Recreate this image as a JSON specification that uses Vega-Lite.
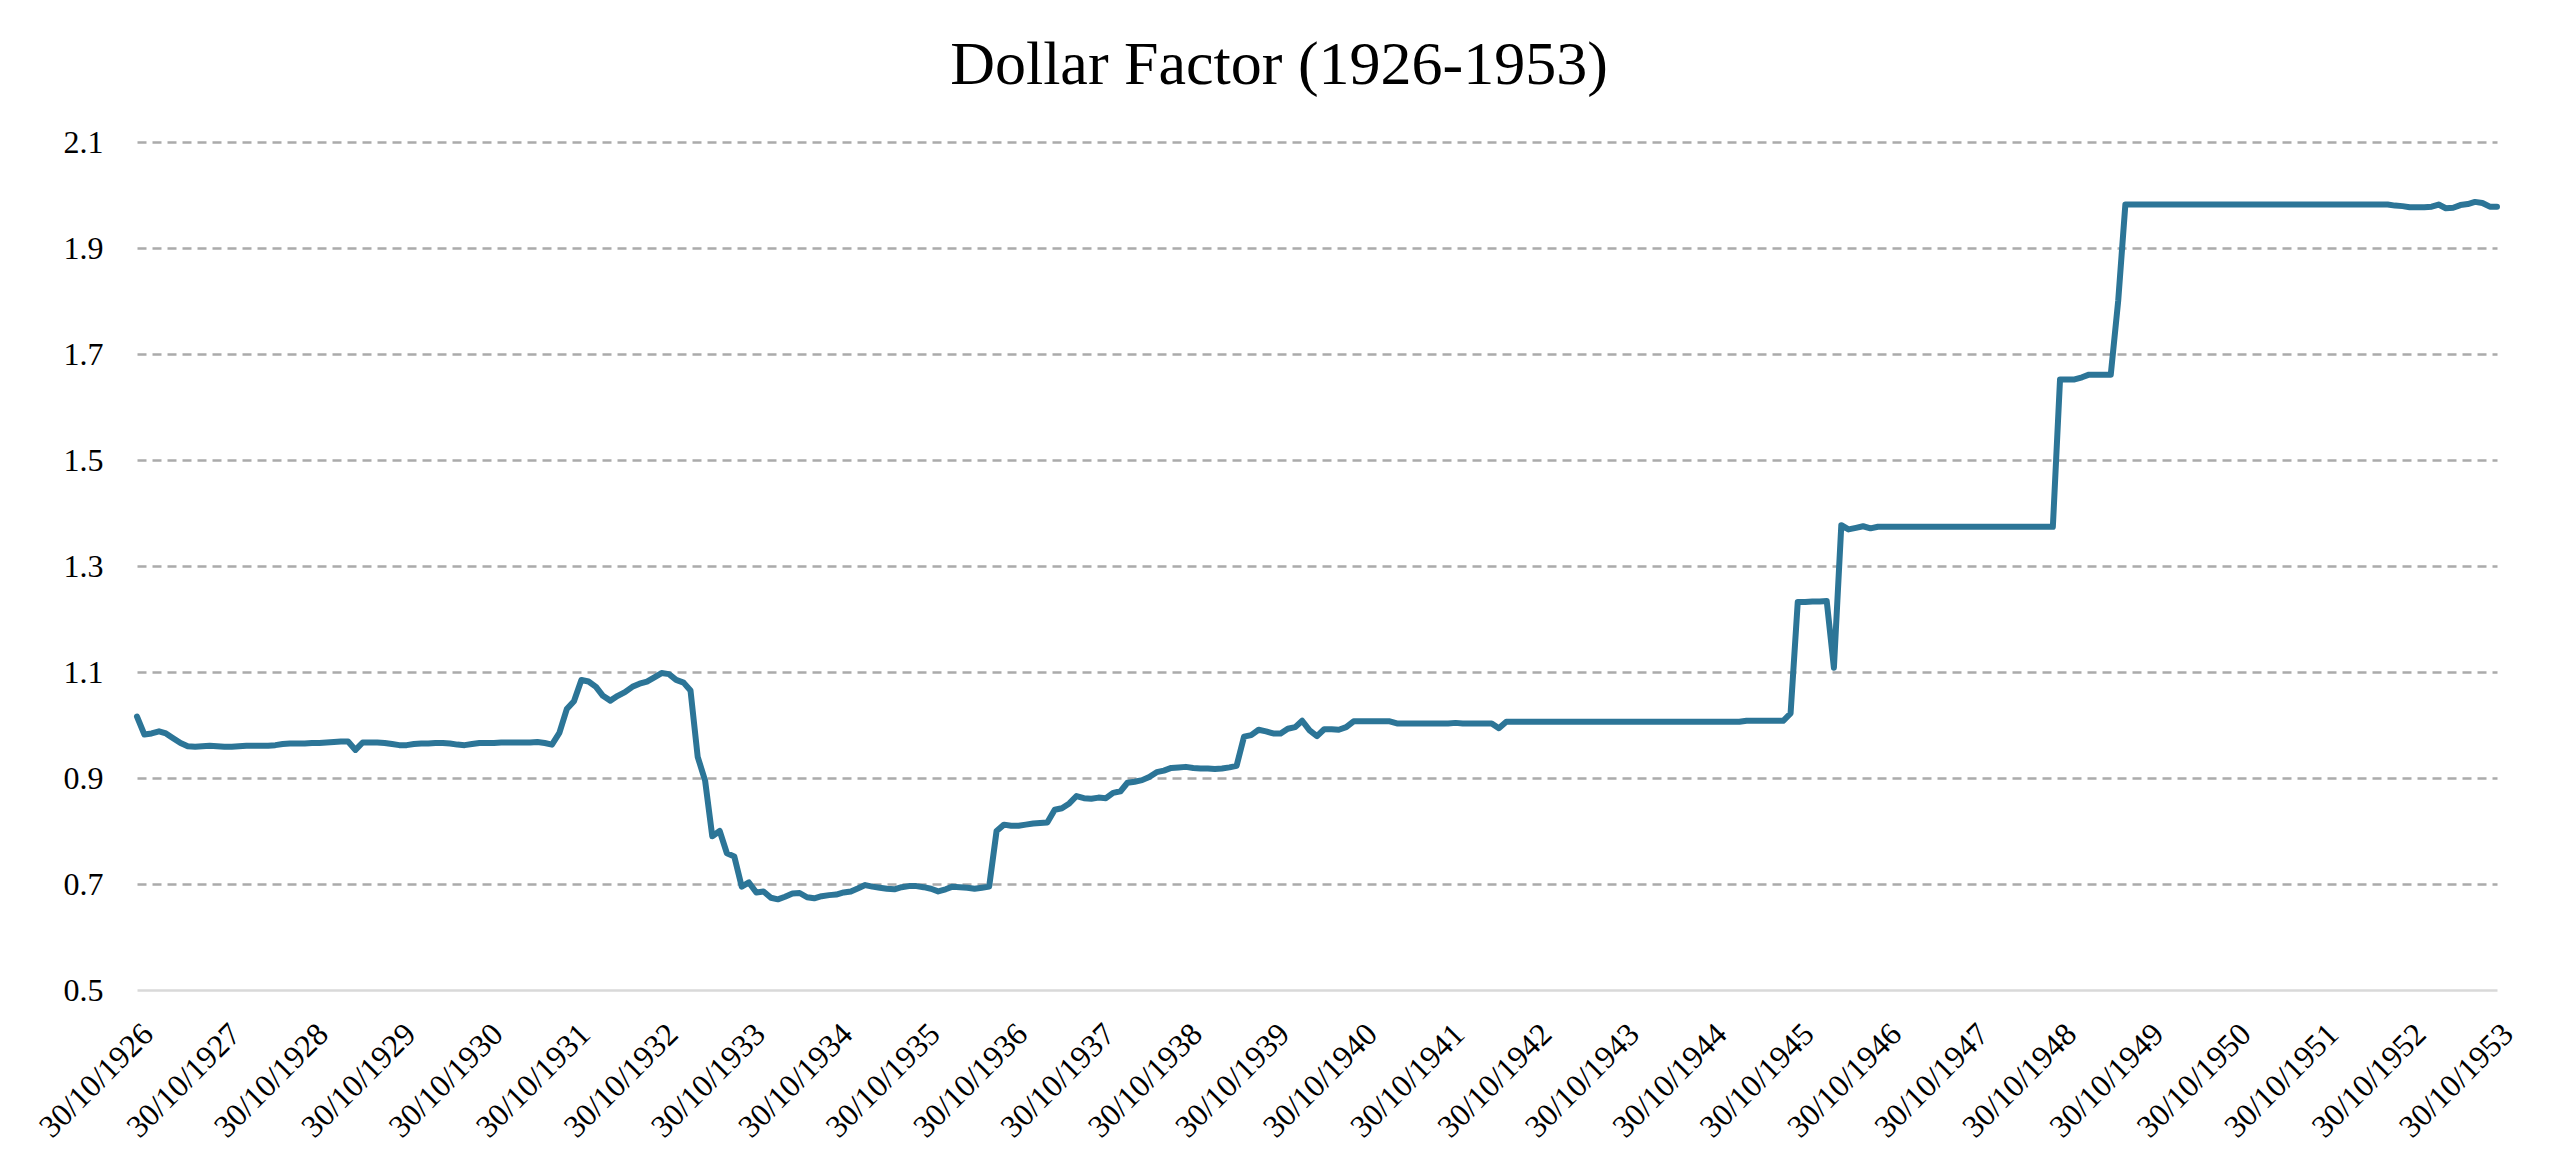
{
  "$schema": "https://vega.github.io/schema/vega-lite/v6.json",
  "width": 2360,
  "height": 848,
  "autosize": "none",
  "padding": {"left": 137, "top": 142, "right": 63, "bottom": 170},
  "background": "white",
  "title": {
    "text": "Dollar Factor (1926-1953)",
    "font": "Liberation Serif",
    "fontSize": 62,
    "fontWeight": "normal",
    "color": "#000000",
    "anchor": "middle",
    "dx": -38,
    "offset": 29
  },
  "data": {
    "values": [
      {"d": "1926-10-30", "v": 1.016}, {"d": "1926-11-30", "v": 0.982}, {"d": "1926-12-30", "v": 0.984},
      {"d": "1927-01-30", "v": 0.988}, {"d": "1927-02-28", "v": 0.984}, {"d": "1927-03-30", "v": 0.975}, {"d": "1927-04-30", "v": 0.966}, {"d": "1927-05-30", "v": 0.960}, {"d": "1927-06-30", "v": 0.959}, {"d": "1927-07-30", "v": 0.960}, {"d": "1927-08-30", "v": 0.961}, {"d": "1927-09-30", "v": 0.960}, {"d": "1927-10-30", "v": 0.959}, {"d": "1927-11-30", "v": 0.959}, {"d": "1927-12-30", "v": 0.960},
      {"d": "1928-01-30", "v": 0.961}, {"d": "1928-02-28", "v": 0.961}, {"d": "1928-03-30", "v": 0.961}, {"d": "1928-04-30", "v": 0.961}, {"d": "1928-05-30", "v": 0.962}, {"d": "1928-06-30", "v": 0.964}, {"d": "1928-07-30", "v": 0.965}, {"d": "1928-08-30", "v": 0.965}, {"d": "1928-09-30", "v": 0.965}, {"d": "1928-10-30", "v": 0.966}, {"d": "1928-11-30", "v": 0.966}, {"d": "1928-12-30", "v": 0.967},
      {"d": "1929-01-30", "v": 0.968}, {"d": "1929-02-28", "v": 0.969}, {"d": "1929-03-30", "v": 0.969}, {"d": "1929-04-30", "v": 0.953}, {"d": "1929-05-30", "v": 0.967}, {"d": "1929-06-30", "v": 0.967}, {"d": "1929-07-30", "v": 0.967}, {"d": "1929-08-30", "v": 0.966}, {"d": "1929-09-30", "v": 0.964}, {"d": "1929-10-30", "v": 0.962}, {"d": "1929-11-30", "v": 0.962}, {"d": "1929-12-30", "v": 0.964},
      {"d": "1930-01-30", "v": 0.965}, {"d": "1930-02-28", "v": 0.965}, {"d": "1930-03-30", "v": 0.966}, {"d": "1930-04-30", "v": 0.966}, {"d": "1930-05-30", "v": 0.965}, {"d": "1930-06-30", "v": 0.963}, {"d": "1930-07-30", "v": 0.962}, {"d": "1930-08-30", "v": 0.964}, {"d": "1930-09-30", "v": 0.966}, {"d": "1930-10-30", "v": 0.966}, {"d": "1930-11-30", "v": 0.966}, {"d": "1930-12-30", "v": 0.967},
      {"d": "1931-01-30", "v": 0.967}, {"d": "1931-02-28", "v": 0.967}, {"d": "1931-03-30", "v": 0.967}, {"d": "1931-04-30", "v": 0.967}, {"d": "1931-05-30", "v": 0.968}, {"d": "1931-06-30", "v": 0.966}, {"d": "1931-07-30", "v": 0.963}, {"d": "1931-08-30", "v": 0.985}, {"d": "1931-09-30", "v": 1.030}, {"d": "1931-10-30", "v": 1.045}, {"d": "1931-11-30", "v": 1.085}, {"d": "1931-12-30", "v": 1.082},
      {"d": "1932-01-30", "v": 1.072}, {"d": "1932-02-28", "v": 1.055}, {"d": "1932-03-30", "v": 1.046}, {"d": "1932-04-30", "v": 1.055}, {"d": "1932-05-30", "v": 1.062}, {"d": "1932-06-30", "v": 1.072}, {"d": "1932-07-30", "v": 1.078}, {"d": "1932-08-30", "v": 1.082}, {"d": "1932-09-30", "v": 1.090}, {"d": "1932-10-30", "v": 1.098}, {"d": "1932-11-30", "v": 1.096}, {"d": "1932-12-30", "v": 1.085},
      {"d": "1933-01-30", "v": 1.080}, {"d": "1933-02-28", "v": 1.065}, {"d": "1933-03-30", "v": 0.940}, {"d": "1933-04-30", "v": 0.895}, {"d": "1933-05-30", "v": 0.790}, {"d": "1933-06-30", "v": 0.800}, {"d": "1933-07-30", "v": 0.758}, {"d": "1933-08-30", "v": 0.752}, {"d": "1933-09-30", "v": 0.695}, {"d": "1933-10-30", "v": 0.703}, {"d": "1933-11-30", "v": 0.684}, {"d": "1933-12-30", "v": 0.686},
      {"d": "1934-01-30", "v": 0.674}, {"d": "1934-02-28", "v": 0.671}, {"d": "1934-03-30", "v": 0.676}, {"d": "1934-04-30", "v": 0.682}, {"d": "1934-05-30", "v": 0.683}, {"d": "1934-06-30", "v": 0.675}, {"d": "1934-07-30", "v": 0.673}, {"d": "1934-08-30", "v": 0.677}, {"d": "1934-09-30", "v": 0.679}, {"d": "1934-10-30", "v": 0.680}, {"d": "1934-11-30", "v": 0.684}, {"d": "1934-12-30", "v": 0.686},
      {"d": "1935-01-30", "v": 0.692}, {"d": "1935-02-28", "v": 0.698}, {"d": "1935-03-30", "v": 0.695}, {"d": "1935-04-30", "v": 0.693}, {"d": "1935-05-30", "v": 0.691}, {"d": "1935-06-30", "v": 0.690}, {"d": "1935-07-30", "v": 0.694}, {"d": "1935-08-30", "v": 0.696}, {"d": "1935-09-30", "v": 0.696}, {"d": "1935-10-30", "v": 0.694}, {"d": "1935-11-30", "v": 0.691}, {"d": "1935-12-30", "v": 0.686},
      {"d": "1936-01-30", "v": 0.690}, {"d": "1936-02-28", "v": 0.695}, {"d": "1936-03-30", "v": 0.694}, {"d": "1936-04-30", "v": 0.693}, {"d": "1936-05-30", "v": 0.691}, {"d": "1936-06-30", "v": 0.693}, {"d": "1936-07-30", "v": 0.695}, {"d": "1936-08-30", "v": 0.800}, {"d": "1936-09-30", "v": 0.812}, {"d": "1936-10-30", "v": 0.810}, {"d": "1936-11-30", "v": 0.810}, {"d": "1936-12-30", "v": 0.812},
      {"d": "1937-01-30", "v": 0.814}, {"d": "1937-02-28", "v": 0.815}, {"d": "1937-03-30", "v": 0.816}, {"d": "1937-04-30", "v": 0.840}, {"d": "1937-05-30", "v": 0.843}, {"d": "1937-06-30", "v": 0.852}, {"d": "1937-07-30", "v": 0.866}, {"d": "1937-08-30", "v": 0.862}, {"d": "1937-09-30", "v": 0.861}, {"d": "1937-10-30", "v": 0.863}, {"d": "1937-11-30", "v": 0.862}, {"d": "1937-12-30", "v": 0.872},
      {"d": "1938-01-30", "v": 0.875}, {"d": "1938-02-28", "v": 0.891}, {"d": "1938-03-30", "v": 0.893}, {"d": "1938-04-30", "v": 0.896}, {"d": "1938-05-30", "v": 0.902}, {"d": "1938-06-30", "v": 0.911}, {"d": "1938-07-30", "v": 0.914}, {"d": "1938-08-30", "v": 0.919}, {"d": "1938-09-30", "v": 0.920}, {"d": "1938-10-30", "v": 0.921}, {"d": "1938-11-30", "v": 0.919}, {"d": "1938-12-30", "v": 0.918},
      {"d": "1939-01-30", "v": 0.918}, {"d": "1939-02-28", "v": 0.917}, {"d": "1939-03-30", "v": 0.918}, {"d": "1939-04-30", "v": 0.920}, {"d": "1939-05-30", "v": 0.923}, {"d": "1939-06-30", "v": 0.978}, {"d": "1939-07-30", "v": 0.981}, {"d": "1939-08-30", "v": 0.991}, {"d": "1939-09-30", "v": 0.988}, {"d": "1939-10-30", "v": 0.984}, {"d": "1939-11-30", "v": 0.984}, {"d": "1939-12-30", "v": 0.993},
      {"d": "1940-01-30", "v": 0.996}, {"d": "1940-02-28", "v": 1.008}, {"d": "1940-03-30", "v": 0.990}, {"d": "1940-04-30", "v": 0.979}, {"d": "1940-05-30", "v": 0.992}, {"d": "1940-06-30", "v": 0.992}, {"d": "1940-07-30", "v": 0.991}, {"d": "1940-08-30", "v": 0.996}, {"d": "1940-09-30", "v": 1.007}, {"d": "1940-10-30", "v": 1.007}, {"d": "1940-11-30", "v": 1.007}, {"d": "1940-12-30", "v": 1.007},
      {"d": "1941-01-30", "v": 1.007}, {"d": "1941-02-28", "v": 1.007}, {"d": "1941-03-30", "v": 1.003}, {"d": "1941-04-30", "v": 1.003}, {"d": "1941-05-30", "v": 1.003}, {"d": "1941-06-30", "v": 1.003}, {"d": "1941-07-30", "v": 1.003}, {"d": "1941-08-30", "v": 1.003}, {"d": "1941-09-30", "v": 1.003}, {"d": "1941-10-30", "v": 1.003}, {"d": "1941-11-30", "v": 1.004}, {"d": "1941-12-30", "v": 1.003},
      {"d": "1942-01-30", "v": 1.003}, {"d": "1942-02-28", "v": 1.003}, {"d": "1942-03-30", "v": 1.003}, {"d": "1942-04-30", "v": 1.003}, {"d": "1942-05-30", "v": 0.994}, {"d": "1942-06-30", "v": 1.006}, {"d": "1942-07-30", "v": 1.006}, {"d": "1942-08-30", "v": 1.006}, {"d": "1942-09-30", "v": 1.006}, {"d": "1942-10-30", "v": 1.006}, {"d": "1942-11-30", "v": 1.006}, {"d": "1942-12-30", "v": 1.006},
      {"d": "1943-01-30", "v": 1.006}, {"d": "1943-02-28", "v": 1.006}, {"d": "1943-03-30", "v": 1.006}, {"d": "1943-04-30", "v": 1.006}, {"d": "1943-05-30", "v": 1.006}, {"d": "1943-06-30", "v": 1.006}, {"d": "1943-07-30", "v": 1.006}, {"d": "1943-08-30", "v": 1.006}, {"d": "1943-09-30", "v": 1.006}, {"d": "1943-10-30", "v": 1.006}, {"d": "1943-11-30", "v": 1.006}, {"d": "1943-12-30", "v": 1.006},
      {"d": "1944-01-30", "v": 1.006}, {"d": "1944-02-28", "v": 1.006}, {"d": "1944-03-30", "v": 1.006}, {"d": "1944-04-30", "v": 1.006}, {"d": "1944-05-30", "v": 1.006}, {"d": "1944-06-30", "v": 1.006}, {"d": "1944-07-30", "v": 1.006}, {"d": "1944-08-30", "v": 1.006}, {"d": "1944-09-30", "v": 1.006}, {"d": "1944-10-30", "v": 1.006}, {"d": "1944-11-30", "v": 1.006}, {"d": "1944-12-30", "v": 1.006},
      {"d": "1945-01-30", "v": 1.006}, {"d": "1945-02-28", "v": 1.006}, {"d": "1945-03-30", "v": 1.008}, {"d": "1945-04-30", "v": 1.008}, {"d": "1945-05-30", "v": 1.008}, {"d": "1945-06-30", "v": 1.008}, {"d": "1945-07-30", "v": 1.008}, {"d": "1945-08-30", "v": 1.008}, {"d": "1945-09-30", "v": 1.022}, {"d": "1945-10-30", "v": 1.232}, {"d": "1945-11-30", "v": 1.232}, {"d": "1945-12-30", "v": 1.233},
      {"d": "1946-01-30", "v": 1.233}, {"d": "1946-02-28", "v": 1.234}, {"d": "1946-03-30", "v": 1.108}, {"d": "1946-04-30", "v": 1.377}, {"d": "1946-05-30", "v": 1.369}, {"d": "1946-06-30", "v": 1.372}, {"d": "1946-07-30", "v": 1.375}, {"d": "1946-08-30", "v": 1.371}, {"d": "1946-09-30", "v": 1.374}, {"d": "1946-10-30", "v": 1.374}, {"d": "1946-11-30", "v": 1.374}, {"d": "1946-12-30", "v": 1.374},
      {"d": "1947-01-30", "v": 1.374}, {"d": "1947-02-28", "v": 1.374}, {"d": "1947-03-30", "v": 1.374}, {"d": "1947-04-30", "v": 1.374}, {"d": "1947-05-30", "v": 1.374}, {"d": "1947-06-30", "v": 1.374}, {"d": "1947-07-30", "v": 1.374}, {"d": "1947-08-30", "v": 1.374}, {"d": "1947-09-30", "v": 1.374}, {"d": "1947-10-30", "v": 1.374}, {"d": "1947-11-30", "v": 1.374}, {"d": "1947-12-30", "v": 1.374},
      {"d": "1948-01-30", "v": 1.374}, {"d": "1948-02-28", "v": 1.374}, {"d": "1948-03-30", "v": 1.374}, {"d": "1948-04-30", "v": 1.374}, {"d": "1948-05-30", "v": 1.374}, {"d": "1948-06-30", "v": 1.374}, {"d": "1948-07-30", "v": 1.374}, {"d": "1948-08-30", "v": 1.374}, {"d": "1948-09-30", "v": 1.374}, {"d": "1948-10-30", "v": 1.652}, {"d": "1948-11-30", "v": 1.652}, {"d": "1948-12-30", "v": 1.652},
      {"d": "1949-01-30", "v": 1.656}, {"d": "1949-02-28", "v": 1.661}, {"d": "1949-03-30", "v": 1.661}, {"d": "1949-04-30", "v": 1.661}, {"d": "1949-05-30", "v": 1.661}, {"d": "1949-06-30", "v": 1.800}, {"d": "1949-07-30", "v": 1.982}, {"d": "1949-08-30", "v": 1.982}, {"d": "1949-09-30", "v": 1.982}, {"d": "1949-10-30", "v": 1.982}, {"d": "1949-11-30", "v": 1.982}, {"d": "1949-12-30", "v": 1.982},
      {"d": "1950-01-30", "v": 1.982}, {"d": "1950-02-28", "v": 1.982}, {"d": "1950-03-30", "v": 1.982}, {"d": "1950-04-30", "v": 1.982}, {"d": "1950-05-30", "v": 1.982}, {"d": "1950-06-30", "v": 1.982}, {"d": "1950-07-30", "v": 1.982}, {"d": "1950-08-30", "v": 1.982}, {"d": "1950-09-30", "v": 1.982}, {"d": "1950-10-30", "v": 1.982}, {"d": "1950-11-30", "v": 1.982}, {"d": "1950-12-30", "v": 1.982},
      {"d": "1951-01-30", "v": 1.982}, {"d": "1951-02-28", "v": 1.982}, {"d": "1951-03-30", "v": 1.982}, {"d": "1951-04-30", "v": 1.982}, {"d": "1951-05-30", "v": 1.982}, {"d": "1951-06-30", "v": 1.982}, {"d": "1951-07-30", "v": 1.982}, {"d": "1951-08-30", "v": 1.982}, {"d": "1951-09-30", "v": 1.982}, {"d": "1951-10-30", "v": 1.982}, {"d": "1951-11-30", "v": 1.982}, {"d": "1951-12-30", "v": 1.982},
      {"d": "1952-01-30", "v": 1.982}, {"d": "1952-02-28", "v": 1.982}, {"d": "1952-03-30", "v": 1.982}, {"d": "1952-04-30", "v": 1.982}, {"d": "1952-05-30", "v": 1.982}, {"d": "1952-06-30", "v": 1.982}, {"d": "1952-07-30", "v": 1.982}, {"d": "1952-08-30", "v": 1.980}, {"d": "1952-09-30", "v": 1.979}, {"d": "1952-10-30", "v": 1.977}, {"d": "1952-11-30", "v": 1.977}, {"d": "1952-12-30", "v": 1.977},
      {"d": "1953-01-30", "v": 1.978}, {"d": "1953-02-28", "v": 1.982}, {"d": "1953-03-30", "v": 1.975}, {"d": "1953-04-30", "v": 1.976}, {"d": "1953-05-30", "v": 1.981}, {"d": "1953-06-30", "v": 1.983}, {"d": "1953-07-30", "v": 1.987}, {"d": "1953-08-30", "v": 1.985}, {"d": "1953-09-30", "v": 1.978}, {"d": "1953-10-30", "v": 1.978}
    ]
  },
  "mark": {"type": "line", "color": "#2c7597", "strokeWidth": 6, "strokeJoin": "round", "strokeCap": "round"},
  "encoding": {
    "x": {
      "field": "d",
      "type": "temporal",
      "scale": {
        "type": "utc",
        "domain": [
          {"year": 1926, "month": 10, "date": 30, "utc": true},
          {"year": 1953, "month": 10, "date": 30, "utc": true}
        ]
      },
      "axis": {
        "title": null,
        "values": [
          {"year": 1926, "month": 10, "date": 30, "utc": true}, {"year": 1927, "month": 10, "date": 30, "utc": true},
          {"year": 1928, "month": 10, "date": 30, "utc": true}, {"year": 1929, "month": 10, "date": 30, "utc": true},
          {"year": 1930, "month": 10, "date": 30, "utc": true}, {"year": 1931, "month": 10, "date": 30, "utc": true},
          {"year": 1932, "month": 10, "date": 30, "utc": true}, {"year": 1933, "month": 10, "date": 30, "utc": true},
          {"year": 1934, "month": 10, "date": 30, "utc": true}, {"year": 1935, "month": 10, "date": 30, "utc": true},
          {"year": 1936, "month": 10, "date": 30, "utc": true}, {"year": 1937, "month": 10, "date": 30, "utc": true},
          {"year": 1938, "month": 10, "date": 30, "utc": true}, {"year": 1939, "month": 10, "date": 30, "utc": true},
          {"year": 1940, "month": 10, "date": 30, "utc": true}, {"year": 1941, "month": 10, "date": 30, "utc": true},
          {"year": 1942, "month": 10, "date": 30, "utc": true}, {"year": 1943, "month": 10, "date": 30, "utc": true},
          {"year": 1944, "month": 10, "date": 30, "utc": true}, {"year": 1945, "month": 10, "date": 30, "utc": true},
          {"year": 1946, "month": 10, "date": 30, "utc": true}, {"year": 1947, "month": 10, "date": 30, "utc": true},
          {"year": 1948, "month": 10, "date": 30, "utc": true}, {"year": 1949, "month": 10, "date": 30, "utc": true},
          {"year": 1950, "month": 10, "date": 30, "utc": true}, {"year": 1951, "month": 10, "date": 30, "utc": true},
          {"year": 1952, "month": 10, "date": 30, "utc": true}, {"year": 1953, "month": 10, "date": 30, "utc": true}
        ],
        "format": "%d/%m/%Y",
        "labelAngle": -45,
        "labelAlign": "right",
        "labelBaseline": "top",
        "labelFont": "Liberation Serif",
        "labelFontSize": 32,
        "labelColor": "#000000",
        "labelPadding": 28,
        "labelFlush": false,
        "labelOverlap": false,
        "labelBound": false,
        "ticks": false,
        "domain": false,
        "grid": false
      }
    },
    "y": {
      "field": "v",
      "type": "quantitative",
      "scale": {"domain": [0.5, 2.1], "nice": false, "zero": false},
      "axis": {
        "title": null,
        "values": [0.5, 0.7, 0.9, 1.1, 1.3, 1.5, 1.7, 1.9, 2.1],
        "format": ".1f",
        "labelFont": "Liberation Serif",
        "labelFontSize": 32,
        "labelColor": "#000000",
        "labelPadding": 34,
        "ticks": false,
        "domain": false,
        "grid": true,
        "gridWidth": 2.5,
        "gridColor": {"condition": {"test": "datum.value <= 0.5", "value": "#d9d9d9"}, "value": "#ababab"},
        "gridDash": {"condition": {"test": "datum.value <= 0.5", "value": [1, 0]}, "value": [9, 6]}
      }
    }
  },
  "config": {"view": {"stroke": null}}
}
